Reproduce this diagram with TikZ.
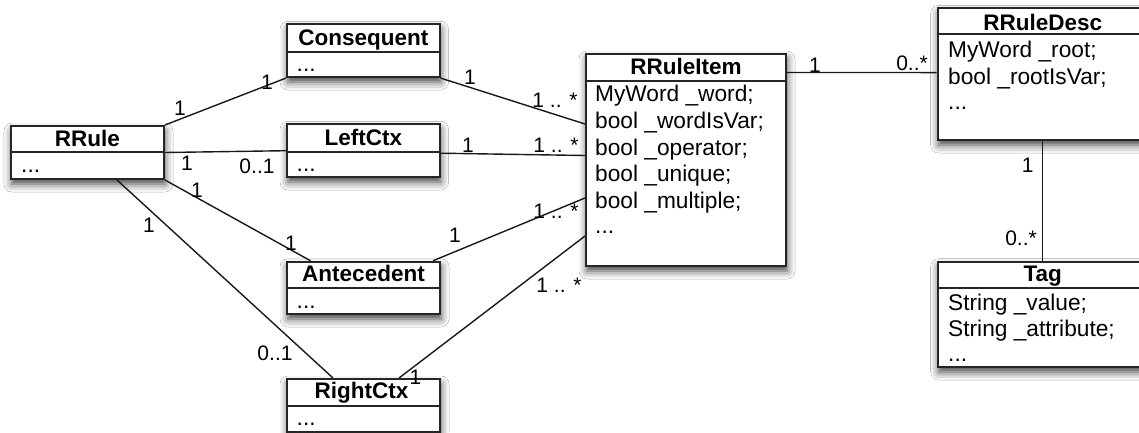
\documentclass[tikz,border=0pt]{standalone}
\usepackage{fontspec}
\setmainfont{Liberation Sans}
\usetikzlibrary{shadows.blur}
\newcommand\umltitle{\fontsize{22.5}{26}\selectfont\bfseries}
\newcommand\umlattr{\fontsize{22.7}{26.7}\selectfont}
\newcommand\umllab{\fontsize{21}{24}\selectfont}
\tikzset{
  umlbox/.style={draw=black!85, line width=2pt, fill=white, inner sep=0pt, rectangle,
    blur shadow={shadow xshift=1pt, shadow yshift=-5pt, shadow blur radius=8pt, shadow opacity=75}},
  divline/.style={draw=black!85, line width=2pt},
  conn/.style={draw=black!90, line width=1.4pt},
  ttl/.style={inner sep=0pt, anchor=base, font=\umltitle},
  attr/.style={inner sep=0pt, anchor=base west, font=\umlattr},
  lab/.style={inner sep=0pt, font=\umllab},
}
\begin{document}
\begin{tikzpicture}[x=1pt, y=-1pt]
\useasboundingbox (0,0) rectangle (1139,432);
\clip (0,0) rectangle (1139,432);
\fill[white] (0,0) rectangle (1139,432);

% boxes
\node[umlbox, minimum width=153pt, minimum height=53pt] (rrule) at (87.5,152.5) {};
\node[umlbox, minimum width=152.5pt, minimum height=52.7pt] (cons) at (363.3,50.7) {};
\node[umlbox, minimum width=152.5pt, minimum height=52.7pt] (left) at (363.3,150.7) {};
\node[umlbox, minimum width=153pt, minimum height=52.3pt] (ant) at (363.5,287.9) {};
\node[umlbox, minimum width=153pt, minimum height=52.6pt] (right) at (363.5,405.3) {};
\node[umlbox, minimum width=200pt, minimum height=212pt] (item) at (686,160) {};
\node[umlbox, minimum width=210pt, minimum height=131.7pt] (desc) at (1042.7,74.2) {};
\node[umlbox, minimum width=210pt, minimum height=105.4pt] (tag) at (1042.7,314.4) {};

% dividers
\draw[divline] (rrule.west |- 0,152) -- (rrule.east |- 0,152);
\draw[divline] (cons.west |- 0,51.7) -- (cons.east |- 0,51.7);
\draw[divline] (left.west |- 0,151.7) -- (left.east |- 0,151.7);
\draw[divline] (ant.west |- 0,288.3) -- (ant.east |- 0,288.3);
\draw[divline] (right.west |- 0,405.7) -- (right.east |- 0,405.7);
\draw[divline] (item.west |- 0,80.7) -- (item.east |- 0,80.7);
\draw[divline] (desc.west |- 0,34) -- (desc.east |- 0,34);
\draw[divline] (tag.west |- 0,288.3) -- (tag.east |- 0,288.3);

% connectors
\draw[conn] (rrule.north east) -- (cons.south west);
\draw[conn] (rrule.east) -- (left.west);
\draw[conn] (rrule.south east) -- ([xshift=24.5pt]ant.north west);
\draw[conn] ([xshift=29.5pt]rrule.south) -- ([xshift=-30.5pt]right.north);
\draw[conn] (cons.south east) -- ([yshift=-71pt]item.north west);
\draw[conn] ([yshift=-2.5pt]left.east) -- ([yshift=-102.5pt]item.north west);
\draw[conn] ([xshift=-8pt]ant.north east) -- ([yshift=-145pt]item.north west);
\draw[conn] ([xshift=-42pt]right.north east) -- ([yshift=-183pt]item.north west);
\draw[conn] ([yshift=-19.5pt]item.north east) -- ([yshift=-65.2pt]desc.north west);
\draw[conn] (desc.south) -- (tag.north);

% titles
\node[ttl] (rruleT) at (87.5,146) {RRule};
\node[ttl] (consT) at (363.3,45) {Consequent};
\node[ttl] (leftT) at (363.3,145) {LeftCtx};
\node[ttl] (antT) at (363.5,281.7) {Antecedent};
\node[ttl] (rightT) at (361.5,398.5) {RightCtx};
\node[ttl] (itemT) at (686,74) {RRuleItem};
\node[ttl] (descT) at (1042.7,30) {RRuleDesc};
\node[ttl] (tagT) at (1042.7,281.7) {Tag};

% attributes
\node[attr] (rruleA) at (21,172.5) {...};
\node[attr] (consA) at (296.5,71.5) {...};
\node[attr] (leftA) at (296.5,171.5) {...};
\node[attr] (antA) at (296.5,308) {...};
\node[attr] (rightA) at (296.5,425) {...};
\node[attr] (itemA1) at (595,101.7) {MyWord \_word;};
\node[attr] (itemA2) at (595,128.4) {bool \_wordIsVar;};
\node[attr] (itemA3) at (595,155.1) {bool \_operator;};
\node[attr] (itemA4) at (595,181.8) {bool \_unique;};
\node[attr] (itemA5) at (595,208.5) {bool \_multiple;};
\node[attr] (itemA6) at (595,233) {...};
\node[attr] (descA1) at (948,57.5) {MyWord \_root;};
\node[attr] (descA2) at (948,84.2) {bool \_rootIsVar;};
\node[attr] (descA3) at (948,109) {...};
\node[attr] (tagA1) at (948,310) {String \_value;};
\node[attr] (tagA2) at (948,336.7) {String \_attribute;};
\node[attr] (tagA3) at (948,361) {...};

% multiplicity labels
\node[lab] (l1) at (180,108) {1};
\node[lab] (l2) at (267,82) {1};
\node[lab] (l3) at (470,77) {1};
\node[lab] (l4) at (555,100) {1 .. *};
\node[lab] (l5) at (187,163) {1};
\node[lab] (l6) at (257,166) {0..1};
\node[lab] (l7) at (468,145) {1};
\node[lab] (l8) at (556,145) {1 .. *};
\node[lab] (l9) at (197,190) {1};
\node[lab] (l10) at (291,243) {1};
\node[lab] (l11) at (455,235) {1};
\node[lab] (l12) at (556,211) {1 .. *};
\node[lab] (l13) at (149,225) {1};
\node[lab] (l14) at (275,353) {0..1};
\node[lab] (l15) at (415.5,377) {1};
\node[lab] (l16) at (559,285) {1 .. *};
\node[lab] (l17) at (815,65) {1};
\node[lab] (l18) at (912,63) {0..*};
\node[lab] (l19) at (1027.7,165) {1};
\node[lab] (l20) at (1021,238) {0..*};
\end{tikzpicture}
\end{document}
